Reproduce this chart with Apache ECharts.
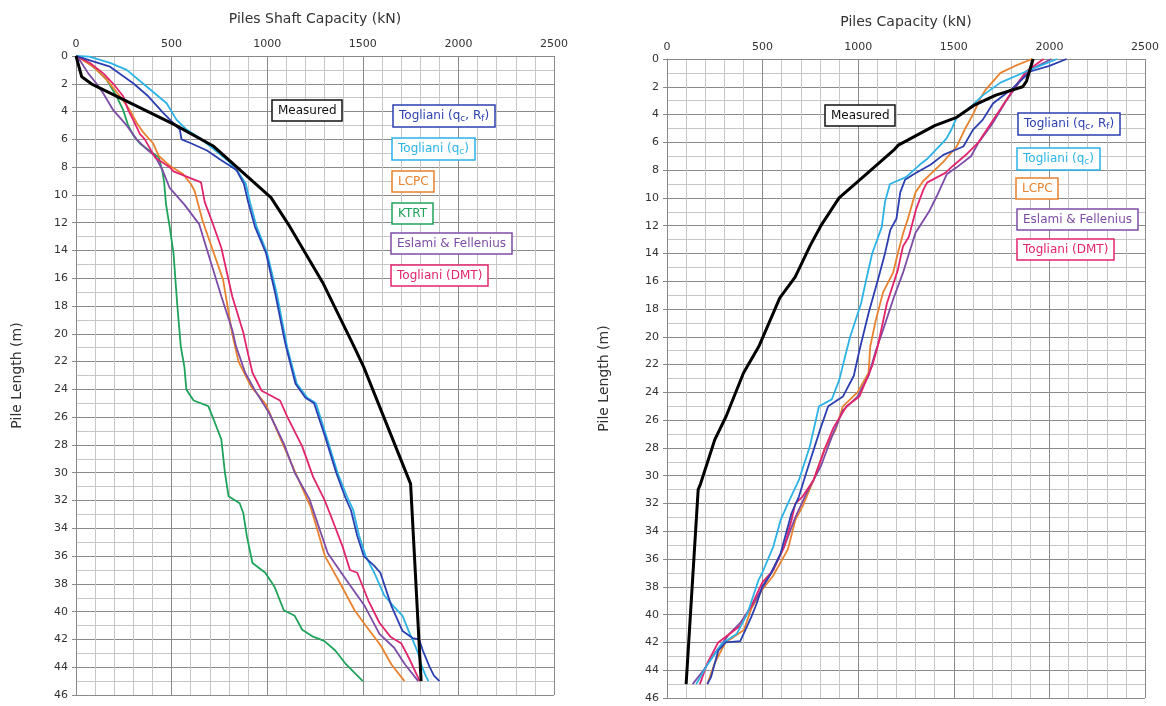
<!DOCTYPE html>
<html>
<head>
<meta charset="utf-8">
<script src="https://cdn.jsdelivr.net/npm/echarts@6/dist/echarts.min.js"></script>
<style>
  html, body { margin: 0; padding: 0; background: #fff; }
  #chart { width: 1166px; height: 706px; }
</style>
</head>
<body>
<div id="chart"></div>
<script>
// [capacity kN, depth m] pairs

// left: shaft capacity
const measuredL = [[0,0],[30,1.5],[80,2],[510,4.9],[720,6.5],[1020,10.2],[1110,12.1],[1290,16.3],[1450,20.8],[1505,22.4],[1750,30.8],[1805,45]];
const qcRfL = [[0,0],[56,0.24],[178,0.77],[299,1.96],[378,2.9],[456,4.1],[543,5.3],[552,6],[604,6.3],[685,6.8],[760,7.5],[839,8.2],[878,9.2],[900,10.5],[936,12.3],[994,14.2],[1042,17.1],[1090,20.4],[1100,21],[1148,23.6],[1200,24.6],[1245,25],[1303,27.4],[1361,30],[1409,31.8],[1438,32.7],[1470,34.5],[1505,36],[1560,36.7],[1592,37.2],[1650,39.6],[1708,41.4],[1760,41.9],[1795,42],[1814,42.8],[1850,44],[1872,44.6],[1901,45]];
const qcL = [[0,0],[70,0.05],[178,0.5],[265,1],[369,2.2],[474,3.4],[526,4.6],[578,5.3],[647,5.9],[720,6.7],[800,7.6],[850,8.4],[888,9.2],[910,10.5],[945,12.3],[1000,14.2],[1050,17.1],[1105,21],[1155,23.6],[1210,24.6],[1255,25],[1310,27.4],[1368,30],[1420,31.8],[1450,32.7],[1480,34.5],[1515,36],[1560,37.2],[1611,38.8],[1660,39.6],[1708,40.3],[1740,41.4],[1766,42.2],[1790,43],[1805,43.8],[1825,44.5],[1843,45]];
const lcpcL = [[0,0],[21,0.17],[90,0.77],[160,1.7],[230,2.9],[282,3.9],[317,4.8],[352,5.5],[404,6.3],[433,7.2],[490,7.9],[560,8.5],[600,9.2],[620,9.7],[663,11.9],[721,14.2],[769,16.1],[817,20],[850,22],[916,23.8],[994,25.1],[1071,27.6],[1148,30],[1225,32.4],[1260,34],[1302,36],[1379,37.9],[1457,39.9],[1515,41],[1592,42.4],[1650,43.8],[1718,45]];
const ktrtL = [[0,0],[38,0.17],[108,1],[160,1.7],[212,2.9],[247,3.9],[273,5],[299,5.7],[334,6.3],[433,7.3],[452,8.3],[461,9.1],[471,10.7],[490,12.3],[510,14.2],[529,17.8],[548,20.9],[567,22.4],[577,24],[615,24.8],[692,25.2],[721,26.2],[760,27.6],[779,30],[798,31.7],[856,32.2],[875,32.9],[894,34.6],[923,36.5],[990,37.2],[1038,38.2],[1087,39.9],[1144,40.3],[1183,41.3],[1240,41.8],[1298,42.1],[1356,42.8],[1413,43.8],[1500,45]];
const eslamiL = [[0,0],[15,0.2],[64,1.25],[108,2],[143,2.7],[195,3.9],[265,5],[317,6],[369,6.7],[413,7.2],[452,8.2],[490,9.5],[567,10.7],[644,12.1],[702,14.7],[760,17.3],[817,19.7],[837,20.9],[885,22.8],[933,24],[1010,25.7],[1087,27.9],[1144,30],[1221,31.9],[1260,33.5],[1317,35.8],[1413,37.7],[1510,39.6],[1587,41.6],[1664,42.6],[1721,43.8],[1790,45]];
const dmtL = [[0,0],[15,0.1],[73,0.5],[143,1.25],[195,2],[247,2.9],[273,3.9],[299,4.6],[334,5.6],[360,6],[413,7.3],[490,8],[510,8.3],[654,9.1],[673,10.5],[711,11.9],[760,13.8],[817,17.3],[875,19.9],[894,21.1],[923,22.8],[971,24.1],[1067,24.8],[1106,26],[1183,28.1],[1240,30.3],[1298,31.9],[1327,32.9],[1394,35.3],[1433,37],[1471,37.2],[1529,39.2],[1587,40.8],[1644,41.8],[1702,42.3],[1740,43.3],[1798,45]];

// right: total capacity
const measuredR = [[1915,0],[1880,1.6],[1860,2],[1720,2.6],[1610,3.3],[1515,4.2],[1400,4.8],[1210,6.2],[1190,6.5],[1050,8.2],[900,10],[805,12],[750,13.4],[670,15.7],[590,17.2],[480,20.7],[400,22.6],[310,25.7],[250,27.4],[175,30.6],[163,31],[100,45]];
const qcRfR = [[2090,0],[2000,0.5],[1900,0.9],[1800,2.2],[1705,3.2],[1650,4.4],[1600,5.1],[1550,6.3],[1445,6.9],[1380,7.6],[1290,8.3],[1245,8.7],[1220,9.6],[1200,11.5],[1168,12.3],[1140,14],[1105,15.8],[1054,18.3],[1006,21],[977,22.8],[920,24.3],[843,25],[805,26.5],[728,29.8],[690,31.5],[651,32.7],[594,35.6],[546,37],[498,38],[469,39.2],[440,40.2],[383,41.9],[306,42],[268,42.6],[230,44.5],[211,45]];
const qcR = [[2040,0],[1950,0.5],[1878,0.9],[1744,1.7],[1653,2.6],[1600,3.3],[1515,4.2],[1490,5],[1463,5.7],[1437,6.1],[1360,7.2],[1323,7.6],[1250,8.5],[1166,9],[1140,10.3],[1123,12.1],[1073,14],[1040,16],[1015,17.6],[958,20],[939,21],[901,23.1],[862,24.5],[795,25],[747,27.9],[690,30.3],[632,32],[594,33.2],[556,35.1],[498,37],[479,37.5],[421,39.9],[364,41.4],[287,42.1],[211,43.6],[153,45]];
const lcpcR = [[1910,0],[1820,0.5],[1744,1],[1667,2.2],[1640,2.8],[1600,4],[1560,5],[1515,6.3],[1445,7.4],[1400,8],[1339,8.8],[1300,9.6],[1287,10.2],[1260,11.5],[1234,12.6],[1207,14],[1182,15.4],[1130,16.8],[1092,18.8],[1063,20.7],[1054,22.6],[996,24],[920,25],[881,26.7],[824,28.1],[767,30.3],[709,32.2],[671,33.2],[632,35.3],[555,37.2],[498,38.2],[440,39.6],[402,41.1],[306,42],[249,43.5],[211,45]];
const eslamiR = [[2010,0],[1897,0.8],[1840,1.7],[1770,3.1],[1700,4.7],[1630,6],[1590,7],[1515,7.8],[1463,8.3],[1410,9.9],[1370,11],[1300,12.5],[1270,13.8],[1234,15.4],[1188,17.1],[1130,19.5],[1092,21],[1054,22.8],[996,24.3],[920,25.3],[862,27.2],[805,29.3],[728,31.3],[671,33],[613,35.1],[536,37.2],[460,39],[383,40.6],[325,41.4],[249,42.8],[191,44],[134,45]];
const dmtR = [[1970,0],[1878,0.9],[1820,2],[1744,3.6],[1686,4.8],[1629,6],[1571,6.8],[1495,7.7],[1456,8.2],[1360,8.9],[1341,9.4],[1303,10.8],[1265,12.8],[1234,13.5],[1207,15.2],[1150,17.6],[1102,20.7],[1073,22.1],[1006,24.3],[939,25],[872,26.5],[824,28.1],[767,30.3],[709,31.5],[671,32],[651,33.2],[613,35.1],[556,36.8],[498,37.7],[440,39.4],[383,40.8],[268,42],[211,43.5],[172,45]];

const C = {
  measured: "#000000",
  qcRf: "#2b3fb0",
  qc: "#2bb3e6",
  lcpc: "#e8822e",
  ktrt: "#1fa35a",
  eslami: "#7d4ca6",
  dmt: "#e2246c",
};

const font = "DejaVu Sans";

function xAxisOf(i, name) {
  return {
    type: "value", gridIndex: i, position: "top",
    min: 0, max: 2500, interval: 500,
    name: name, nameLocation: "middle", nameGap: 30,
    nameTextStyle: { fontFamily: font, fontSize: 14, color: "#333" },
    axisLine: { show: true, lineStyle: { color: "#888" } },
    axisTick: { show: false },
    axisLabel: { fontFamily: font, fontSize: 11, color: "#333", margin: 6, formatter: (v) => String(v) },
    splitLine: { show: true, lineStyle: { color: "#8a8a8a", width: 1 } },
    minorTick: { show: false, splitNumber: 5 },
    minorSplitLine: { show: true, lineStyle: { color: "#c6c6c6", width: 1 } },
  };
}

function yAxisOf(i, gap) {
  return {
    type: "value", gridIndex: i, inverse: true,
    min: 0, max: 46, interval: 2,
    name: "Pile Length (m)", nameLocation: "middle", nameGap: gap,
    nameTextStyle: { fontFamily: font, fontSize: 14, color: "#333" },
    axisLine: { show: true, lineStyle: { color: "#888" } },
    axisTick: { show: true, length: 4, lineStyle: { color: "#888" } },
    axisLabel: { fontFamily: font, fontSize: 11, color: "#333", margin: 8 },
    splitLine: { show: true, lineStyle: { color: "#8a8a8a", width: 1 } },
    minorTick: { show: false, splitNumber: 2 },
    minorSplitLine: { show: true, lineStyle: { color: "#c6c6c6", width: 1 } },
  };
}

function line(i, data, color, w) {
  return {
    type: "line", xAxisIndex: i, yAxisIndex: i, data: data,
    showSymbol: false, animation: false,
    lineStyle: { color: color, width: w || 1.8 },
    itemStyle: { color: color },
    z: color === C.measured ? 3 : 2,
  };
}

// boxed labels
function box(text, color, left, top) {
  return {
    text: text, left: left, top: top,
    borderColor: color, borderWidth: 1.5,
    backgroundColor: "#fff",
    padding: [5, 6, 4, 6],
    textStyle: {
      fontFamily: font, fontSize: 12, fontWeight: "normal", color: color,
      rich: { s: { fontFamily: font, fontSize: 9, color: color, verticalAlign: "bottom", padding: [6, 0, 0, 0] } },
    },
  };
}

let myChart = echarts.init(document.getElementById("chart"));
myChart.setOption({
  backgroundColor: "#fff",
  animation: false,
  title: [
    box("Measured", "#111", 272, 100),
    box("Togliani (q{s|c}, R{s|f})", C.qcRf, 393, 103),
    box("Togliani (q{s|c})", C.qc, 392, 136),
    box("LCPC", C.lcpc, 392, 171),
    box("KTRT", C.ktrt, 392, 203),
    box("Eslami & Fellenius", C.eslami, 391, 233),
    box("Togliani (DMT)", C.dmt, 391, 265),

    box("Measured", "#111", 825, 105),
    box("Togliani (q{s|c}, R{s|f})", C.qcRf, 1018, 111),
    box("Togliani (q{s|c})", C.qc, 1017, 146),
    box("LCPC", C.lcpc, 1016, 178),
    box("Eslami & Fellenius", C.eslami, 1017, 209),
    box("Togliani (DMT)", C.dmt, 1017, 239),
  ],
  grid: [
    { left: 76, top: 56, width: 478, height: 639 },
    { left: 667, top: 59, width: 478, height: 639 },
  ],
  xAxis: [xAxisOf(0, "Piles Shaft Capacity (kN)"), xAxisOf(1, "Piles Capacity (kN)")],
  yAxis: [yAxisOf(0, 52), yAxisOf(1, 56)],
  series: [
    line(0, ktrtL, C.ktrt),
    line(0, lcpcL, C.lcpc),
    line(0, eslamiL, C.eslami),
    line(0, dmtL, C.dmt),
    line(0, qcL, C.qc),
    line(0, qcRfL, C.qcRf),
    line(0, measuredL, C.measured, 3),

    line(1, lcpcR, C.lcpc),
    line(1, eslamiR, C.eslami),
    line(1, dmtR, C.dmt),
    line(1, qcR, C.qc),
    line(1, qcRfR, C.qcRf),
    line(1, measuredR, C.measured, 3),
  ],
});
</script>
</body>
</html>
